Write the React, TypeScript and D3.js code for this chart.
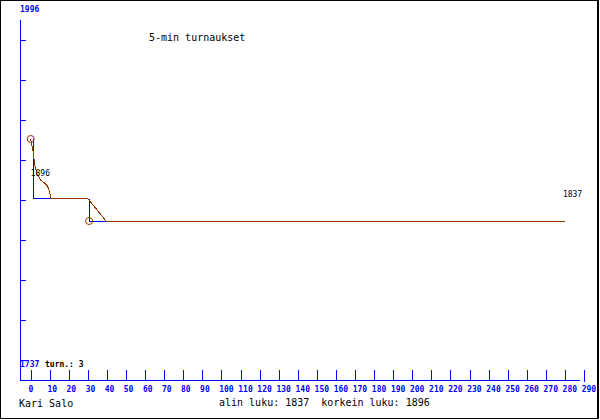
import React from "react";
import * as d3 from "d3";

const W = 600;
const H = 420;

// rating range (min-100 .. max+100)
const yMin = 1737;
const yMax = 1996;
const lowest = 1837;
const highest = 1896;
const tournaments = 3;
const playerName = "Kari Salo";
const title = "5-min turnaukset";

const xTickValues = d3.range(0, 291, 10);
const yTickSlots = [1, 3, 5, 7, 9, 11, 13, 15, 17];

// blue step segments (rating per tournament)
const blueSegments: [number, number][][] = [
  [
    [1.3, 1896],
    [1.3, 1853],
    [11, 1853],
  ],
  [
    [30.6, 1853],
    [30.6, 1837],
    [39.5, 1837],
  ],
];

// brown rating progression
const brownX = [0, 1.4, 1.9, 3.1, 5.2, 8.4, 9.8, 10.6, 30, 39.5, 280];
const brownY = [1896, 1886, 1879, 1871.5, 1866.5, 1863, 1859, 1853, 1853, 1837, 1837];

// circled points (tournament starts)
const circleX = [0, 30.6];
const circleY = [1896, 1837];

const BLUE = "#0000ff";
const BROWN = "#993300";
const MONO = "'DejaVu Sans Mono', 'Liberation Mono', monospace";

export default function App() {
  const x = d3.scaleLinear().domain([0, 290]).range([30.7, 584]);
  const y = d3.scaleLinear().domain([yMin, yMax]).range([360, 0]);
  const slot = d3.scaleLinear().domain([0, 18]).range([20, 380]);

  const line = d3
    .line<[number, number]>()
    .x((d) => x(d[0]))
    .y((d) => y(d[1]));

  const brownPts: [number, number][] = brownX.map((v, i) => [v, brownY[i]]);

  const axisY = 380;
  const axisX = 20;

  return (
    <svg
      width={W}
      height={H}
      style={{ position: "absolute", left: 0, top: 0, background: "#fff" }}
    >
      <rect x={0} y={0} width={W} height={H} fill="#fff" />
      <rect
        x={0.5}
        y={0.5}
        width={597.5}
        height={418}
        fill="none"
        stroke="#000"
        strokeWidth={1.2}
        shapeRendering="crispEdges"
      />

      {/* y axis */}
      <line
        x1={axisX + 0.5}
        x2={axisX + 0.5}
        y1={slot(0)}
        y2={slot(18)}
        stroke={BLUE}
        shapeRendering="crispEdges"
      />
      {yTickSlots.map((s) => (
        <line
          key={s}
          x1={axisX}
          x2={axisX + 6}
          y1={slot(s) + 0.5}
          y2={slot(s) + 0.5}
          stroke={BLUE}
          shapeRendering="crispEdges"
        />
      ))}

      {/* x axis */}
      <line
        x1={axisX}
        x2={580}
        y1={axisY + 0.5}
        y2={axisY + 0.5}
        stroke={BLUE}
        shapeRendering="crispEdges"
      />
      {xTickValues.map((v) => (
        <g key={v}>
          <line
            x1={Math.round(x(v)) + 0.5}
            x2={Math.round(x(v)) + 0.5}
            y1={370}
            y2={v === 290 ? 382 : axisY}
            stroke={BLUE}
            shapeRendering="crispEdges"
          />
          <text
            x={x(v) - 2.3}
            y={392}
            fontFamily={MONO}
            fontSize={8}
            fontWeight="bold"
            fill={BLUE}
          >
            {v}
          </text>
        </g>
      ))}

      {/* y range labels */}
      <text x={20} y={12} fontFamily={MONO} fontSize={8} fontWeight="bold" fill={BLUE}>
        {yMax}
      </text>
      <text x={20} y={367} fontFamily={MONO} fontSize={8} fontWeight="bold" fill={BLUE}>
        {yMin}
      </text>
      <text x={45} y={367} fontFamily={MONO} fontSize={8} fontWeight="bold" fill="#000">
        {`turn.: ${tournaments}`}
      </text>

      {/* title */}
      <text x={149} y={40.5} fontFamily={MONO} fontSize={10} fill="#000">
        {title}
      </text>

      {/* data */}
      {blueSegments.map((seg, i) => (
        <path
          key={i}
          d={line(seg) || ""}
          fill="none"
          stroke={BLUE}
          strokeWidth={1}
          shapeRendering="crispEdges"
        />
      ))}
      <path
        d={line(brownPts) || ""}
        fill="none"
        stroke={BROWN}
        strokeWidth={1}
        shapeRendering="crispEdges"
      />
      {circleX.map((cx, i) => (
        <circle
          key={i}
          cx={x(cx)}
          cy={y(circleY[i])}
          r={3.5}
          fill="none"
          stroke={BROWN}
          strokeWidth={1}
        />
      ))}

      {/* value labels */}
      <text x={x(0)} y={y(highest) + 37} fontFamily={MONO} fontSize={8} fill="#000">
        {highest}
      </text>
      <text x={x(280) - 2} y={y(lowest) - 24} fontFamily={MONO} fontSize={8} fill="#000">
        {lowest}
      </text>

      {/* footer */}
      <text x={19} y={406.5} fontFamily={MONO} fontSize={10} fill="#000">
        {playerName}
      </text>
      <text x={219} y={406} fontFamily={MONO} fontSize={10} fill="#000" style={{ whiteSpace: "pre" }}>
        {`alin luku: ${lowest}  korkein luku: ${highest}`}
      </text>
    </svg>
  );
}
